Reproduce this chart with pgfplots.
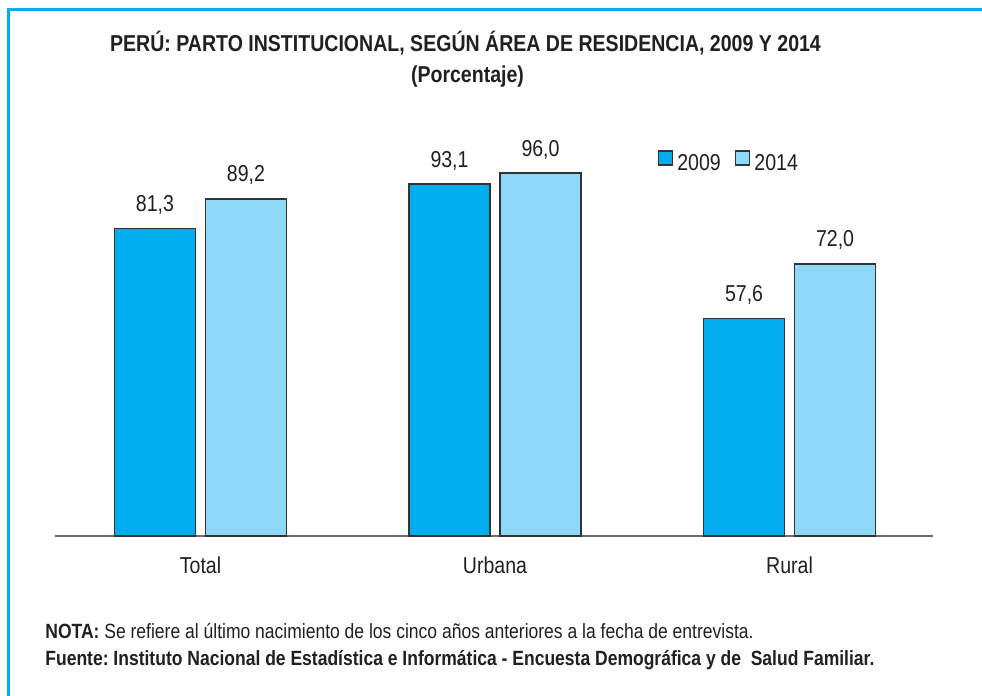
\documentclass[border=0pt]{standalone}
\usepackage{pgfplots}
\pgfplotsset{compat=1.18}
\usepackage{fontspec}
\setmainfont[FakeStretch=0.85]{Liberation Sans}
\definecolor{cA}{HTML}{00AEEF}
\definecolor{cB}{HTML}{8ED8F8}
\definecolor{txt}{HTML}{231F20}
\definecolor{edge}{HTML}{333333}
\definecolor{axl}{HTML}{6D6D6D}
\frenchspacing
\begin{document}
\begin{tikzpicture}
\useasboundingbox (0,0) rectangle (491pt,348pt);
\fill[white] (0,0) rectangle (491pt,348pt);
\draw[cA, line width=1.5pt] (4pt,0) -- (4pt,343pt) -- (491pt,343pt);
\node[anchor=base, inner sep=0pt, text=txt, font=\bfseries\fontsize{11.5}{13}\selectfont] at (232.75pt,322pt) {PERÚ: PARTO INSTITUCIONAL, SEGÚN ÁREA DE RESIDENCIA, 2009 Y 2014};
\node[anchor=base, inner sep=0pt, text=txt, font=\bfseries\fontsize{11.5}{13}\selectfont] at (233.75pt,306.5pt) {(Porcentaje)};
\node[anchor=base west, inner sep=0pt, text=txt, font=\fontsize{10.3}{12}\selectfont] at (22.5pt,28.5pt) {\textbf{NOTA:} Se refiere al último nacimiento de los cinco años anteriores a la fecha de entrevista.};
\node[anchor=base west, inner sep=0pt, text=txt, font=\bfseries\fontsize{10.3}{12}\selectfont] at (22.5pt,15pt) {Fuente: Instituto Nacional de Estadística e Informática - Encuesta Demográfica y de\ \ Salud Familiar.};
\begin{axis}[
  at={(27.5pt,80pt)}, anchor=south west,
  scale only axis, width=439pt, height=189pt,
  xmin=-0.494, xmax=2.487, ymin=0, ymax=100,
  clip=false,
  axis x line*=bottom, axis y line=none,
  x axis line style={draw=axl, line width=1pt, -},
  xtick={0,1,2}, xticklabels={Total,Urbana,Rural},
  major tick length=0pt, xtick style={draw=none},
  xticklabel style={anchor=base, yshift=-19pt, inner sep=0pt, text=txt, font=\fontsize{11.5}{13}\selectfont},
  ytick=\empty,
  ybar=5pt, bar width=40.5pt,
  nodes near coords,
  nodes near coords style={anchor=base, yshift=8.5pt, inner sep=0pt, text=txt, font=\fontsize{11.5}{13}\selectfont},
  /pgf/number format/.cd, fixed, fixed zerofill, precision=1, use comma, assume math mode=true, /pgfplots/.cd,
  legend columns=2,
  legend style={draw=none, fill=none, at={(rel axis cs:0.686,0.985)}, anchor=west, inner sep=0pt,
    font=\fontsize{11.5}{13}\selectfont, text=txt,
    /tikz/every even column/.append style={column sep=5pt}},
  legend image code/.code={\draw[#1, line width=0.8pt] (0pt,-0.5pt) rectangle (7pt,6.5pt);},
]
\addplot[fill=cA, draw=edge, line width=0.75pt] coordinates {(0,81.3) (1,93.1) (2,57.6)};
\addplot[fill=cB, draw=edge, line width=0.75pt] coordinates {(0,89.2) (1,96.0) (2,72.0)};
\legend{2009,2014}
\end{axis}
\end{tikzpicture}
\end{document}
